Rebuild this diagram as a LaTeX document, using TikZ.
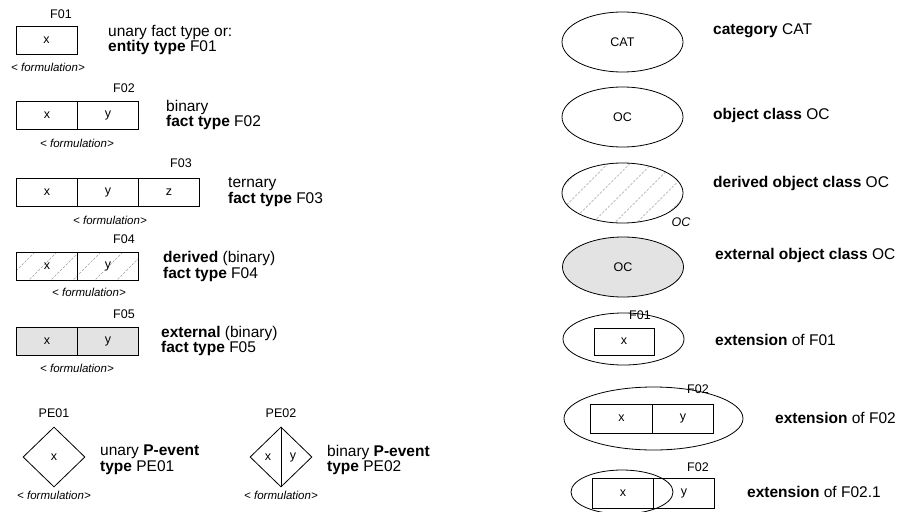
\documentclass[tikz,border=0pt]{standalone}
\usepackage{fontspec}
\setmainfont{Liberation Sans}
\usetikzlibrary{shapes.geometric,backgrounds}
\newcommand\fsz[2]{\fontsize{#1}{#2}\selectfont}
\begin{document}
\begin{tikzpicture}[x=1pt,y=-1pt,
  cell/.style={draw, line width=0.8pt, minimum width=61pt, minimum height=28pt, inner sep=0pt, font=\fsz{12.5}{14}},
  tag/.style={inner sep=0pt, font=\fsz{12.5}{14}},
  form/.style={inner sep=0pt, font=\fsz{11.5}{13}\itshape},
  desc/.style={inner sep=0pt, anchor=west, align=left, font=\fsz{15.5}{15.5}},
  oval/.style={draw, ellipse, line width=0.8pt, inner sep=0pt, font=\fsz{12.5}{14}},
  pev/.style={draw, diamond, line width=0.8pt, inner sep=0pt, minimum width=62pt, minimum height=60pt},
  ptxt/.style={inner sep=0pt, font=\fsz{12.5}{14}},
  hatch/.style={draw=gray!75, line width=0.6pt, dash pattern=on 2.5pt off 1.5pt},
  ext/.style={fill=gray!22}
]
\useasboundingbox (0,0) rectangle (904,511);

% F01
\node[cell] (f1) at (46.5,40) {x};
\node[tag] (f1t) at (61,14) {F01};
\node[form] (f1f) at (48,67) {< formulation>};
\node[desc] (f1d) at (108,40) {unary fact type or:\\\textbf{entity type} F01};

% F02
\node[cell] (f2a) at (47,115) {x};
\node[cell] (f2b) at (108,115) {y};
\node[tag] (f2t) at (124,88) {F02};
\node[form] (f2f) at (77,143) {< formulation>};
\node[desc] (f2d) at (166,115) {binary\\\textbf{fact type} F02};

% F03
\node[cell] (f3a) at (47,192) {x};
\node[cell] (f3b) at (108,192) {y};
\node[cell] (f3c) at (169,192) {z};
\node[tag] (f3t) at (181,163) {F03};
\node[form] (f3f) at (110,220) {< formulation>};
\node[desc] (f3d) at (228,192) {ternary\\\textbf{fact type} F03};

% F04
\node[cell] (f4a) at (47,266.5) {x};
\node[cell] (f4b) at (108,266.5) {y};
\node[tag] (f4t) at (124,239) {F04};
\node[form] (f4f) at (89,292) {< formulation>};
\node[desc] (f4d) at (163,266.5) {\textbf{derived} (binary)\\\textbf{fact type} F04};
\begin{scope}[on background layer]
  \clip (f4a.north west) rectangle (f4b.south east);
  \foreach \x in {-20,2,...,160} \draw[hatch] (\x,285) -- (\x+35,250);
\end{scope}

% F05
\node[cell, ext] (f5a) at (47,341) {x};
\node[cell, ext] (f5b) at (108,341) {y};
\node[tag] (f5t) at (124,314) {F05};
\node[form] (f5f) at (77,368) {< formulation>};
\node[desc] (f5d) at (161,341) {\textbf{external} (binary)\\\textbf{fact type} F05};

% PE01
\node[pev] (p1) at (54,457) {};
\node[ptxt] (p1x) at (54,457) {x};
\node[tag] (p1t) at (54,413) {PE01};
\node[form] (p1f) at (54,495) {< formulation>};
\node[desc] (p1d) at (100,460) {unary \textbf{P-event}\\\textbf{type} PE01};

% PE02
\node[pev] (p2) at (281,457) {};
\draw[line width=0.8pt] (p2.north) -- (p2.south);
\node[ptxt] (p2x) at (268,457) {x};
\node[ptxt] (p2y) at (293,457) {y};
\node[tag] (p2t) at (281,413) {PE02};
\node[form] (p2f) at (281,495) {< formulation>};
\node[desc] (p2d) at (327,460) {binary \textbf{P-event}\\\textbf{type} PE02};

% right column
\node[oval, minimum width=121pt, minimum height=60pt] (cat) at (622.5,42) {CAT};
\node[desc] (catd) at (713,31) {\textbf{category} CAT};

\node[oval, minimum width=121pt, minimum height=60pt] (oc) at (622.5,117) {OC};
\node[desc] (ocd) at (713,115) {\textbf{object class} OC};

\node[oval, minimum width=121pt, minimum height=60pt,
  path picture={\foreach \i in {-88,-66,...,88}
    \draw[hatch] (path picture bounding box.center) ++(\i-40,40) -- ++(80,-80);}] (dr) at (622.5,193) {};
\node[tag, font=\fsz{12.5}{14}\itshape] (drt) at (681,222) {OC};
\node[desc] (drd) at (713,183) {\textbf{derived object class} OC};

\node[oval, ext, minimum width=121pt, minimum height=60pt] (ex) at (623,267) {OC};
\node[desc] (exd) at (715,255) {\textbf{external object class} OC};

\node[oval, minimum width=121pt, minimum height=52pt] (e1) at (623.5,339) {};
\node[cell, minimum width=60pt, minimum height=27pt] (e1a) at (624,341.5) {x};
\node[tag] (e1t) at (640,315) {F01};
\node[desc] (e1d) at (715,340) {\textbf{extension} of F01};

\node[oval, minimum width=179pt, minimum height=63pt] (e2) at (653.5,418.5) {};
\node[cell, minimum width=61.5pt, minimum height=29pt] (e2a) at (621.5,418.5) {x};
\node[cell, minimum width=61.5pt, minimum height=29pt] (e2b) at (683,418.5) {y};
\node[tag] (e2t) at (698,389) {F02};
\node[desc] (e2d) at (775,418) {\textbf{extension} of F02};

\node[oval, minimum width=102pt, minimum height=44pt] (e3) at (622,492) {};
\node[cell, minimum width=61pt, minimum height=30pt] (e3a) at (623,493) {x};
\node[cell, minimum width=61pt, minimum height=30pt] (e3b) at (684,493) {y};
\node[tag] (e3t) at (698,467) {F02};
\node[desc] (e3d) at (747,492) {\textbf{extension} of F02.1};
\end{tikzpicture}
\end{document}
